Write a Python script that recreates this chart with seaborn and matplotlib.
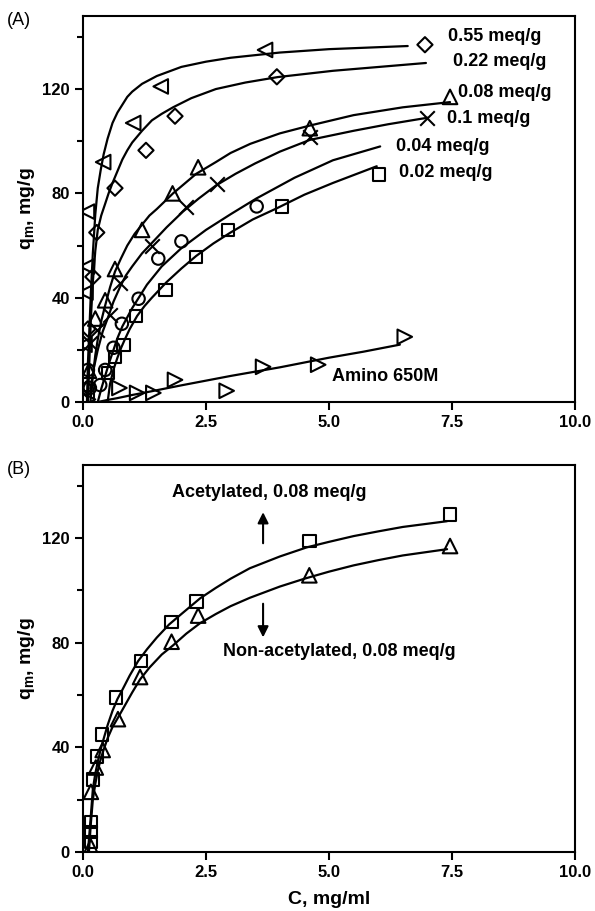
import matplotlib
matplotlib.use("Agg")
import matplotlib.pyplot as plt
import seaborn as sns
import pandas as pd

sns.set_style("ticks")
plt.rcParams['font.family'] = ['Liberation Sans', 'DejaVu Sans']
plt.rcParams['mathtext.fontset'] = 'custom'
plt.rcParams['mathtext.rm'] = 'Liberation Sans:bold'
plt.rcParams['mathtext.it'] = 'Liberation Sans:bold'
plt.rcParams['mathtext.bf'] = 'Liberation Sans:bold'
plt.rcParams['mathtext.default'] = 'regular'
for key in ('text.color', 'axes.labelcolor', 'xtick.color', 'ytick.color', 'axes.edgecolor'):
    plt.rcParams[key] = 'black'

# ---- panel A: measured points (C, q) ----
labels_a = ["0.55 meq/g", "0.22 meq/g", "0.08 meq/g", "0.1 meq/g",
            "0.04 meq/g", "0.02 meq/g", "Amino 650M"]
markers_a = ["<", "D", "^", "x", "o", "s", ">"]

c_055 = [0.03, 0.05, 0.08, 0.08, 0.41, 1.02, 1.58, 3.7]
q_055 = [22, 42, 52, 73, 92, 107, 121, 135]
c_022 = [0.07, 0.1, 0.2, 0.28, 0.65, 1.28, 1.87, 3.94, 6.95]
q_022 = [5, 28, 48, 65, 82, 96.5, 109.6, 124.7, 137]
c_008 = [0.12, 0.25, 0.45, 0.65, 1.2, 1.82, 2.34, 4.61, 7.46]
q_008 = [12, 32, 39, 51, 66, 80, 90, 105, 117]
c_01 = [0.14, 0.28, 0.55, 0.75, 1.4, 2.1, 2.73, 4.61, 7.0]
q_01 = [22.7, 27.7, 33.5, 45.6, 60, 74.6, 83.5, 101.5, 109]
c_004 = [0.1, 0.14, 0.35, 0.45, 0.62, 0.79, 1.13, 1.53, 2.0, 3.53]
q_004 = [12.3, 5.4, 6.5, 12.3, 20.8, 30, 39.6, 55, 61.6, 75]
c_002 = [0.1, 0.51, 0.65, 0.82, 1.08, 1.68, 2.3, 2.95, 4.04, 6.02]
q_002 = [2, 11.2, 17.3, 21.9, 33, 43, 55.7, 66, 75, 87.3]
c_am = [0.1, 0.74, 1.1, 1.43, 1.87, 2.92, 3.66, 4.78, 6.54]
q_am = [1, 5.4, 3.5, 3.5, 8.5, 4.3, 13.5, 14.3, 25]

# ---- panel A: fitted curves ----
fc_055 = [0.08, 0.1, 0.13, 0.16, 0.2, 0.25, 0.3, 0.36, 0.42, 0.5, 0.6, 0.7, 0.8, 0.9,
          1.0, 1.2, 1.5, 2.0, 2.5, 3.0, 4.0, 5.0, 6.6]
fq_055 = [0, 15, 28, 42, 57, 72, 82, 89, 95, 101, 107, 111, 114, 117,
          119, 122, 125, 128.5, 130.5, 132, 134, 135.3, 136.5]
fc_022 = [0.1, 0.13, 0.16, 0.2, 0.25, 0.3, 0.37, 0.45, 0.52, 0.6, 0.7, 0.8, 0.9, 1.0,
          1.2, 1.4, 1.6, 1.83, 2.2, 2.7, 3.3, 3.96, 5.08, 6.97]
fq_022 = [0, 16, 32, 46, 58, 66, 71.5, 76, 80, 84, 88.5, 93, 96.5, 99.5,
          104, 108, 110.5, 113, 116.5, 120, 122.5, 124.6, 127, 130]
fc_008 = [0.15, 0.2, 0.25, 0.3, 0.37, 0.45, 0.55, 0.65, 0.77, 0.9, 1.05, 1.2, 1.35, 1.5,
          1.83, 2.3, 2.7, 3.0, 3.4, 4.0, 4.61, 5.5, 6.5, 7.46]
fq_008 = [0, 10, 18, 24, 31, 37, 44, 50, 55, 60, 64.5, 68, 71.5, 74,
          80, 87.5, 92, 95.5, 99, 103, 106, 110, 113, 115]
fc_01 = [0.15, 0.22, 0.3, 0.4, 0.5, 0.62, 0.75, 0.87, 1.0, 1.2, 1.4, 1.7, 2.03, 2.35,
         2.7, 3.1, 3.5, 4.0, 4.61, 5.5, 6.2, 7.0]
fq_01 = [5, 13, 20, 27, 32, 38.5, 44, 48.5, 52, 57, 61, 67, 73, 78,
         83, 87.5, 91.5, 96, 100.5, 104, 106.5, 109]
fc_004 = [0.3, 0.37, 0.45, 0.53, 0.62, 0.7, 0.8, 0.9, 1.0, 1.15, 1.3, 1.45, 1.6, 1.8,
          2.0, 2.25, 2.5, 3.0, 3.52, 4.3, 5.08, 6.04]
fq_004 = [0, 5, 10, 15, 20, 24.5, 29, 32.5, 36, 40.5, 45, 48.5, 52, 55.5,
          59, 62.5, 66, 72, 78, 86, 92.7, 98]
fc_002 = [0.5, 0.55, 0.62, 0.7, 0.78, 0.85, 0.95, 1.1, 1.25, 1.4, 1.55, 1.7, 2.0, 2.3,
          2.65, 3.0, 3.45, 3.93, 4.5, 5.08, 5.97]
fq_002 = [0, 7, 12.5, 17, 21, 24, 28, 33, 36.8, 40, 43, 46, 51.2, 56,
          60.8, 65, 70, 74.2, 79.5, 84, 90.4]
fc_am = [0.3, 0.5, 0.7, 1.0, 1.36, 2.0, 3.0, 4.0, 5.0, 5.7, 6.44]
fq_am = [0, 0.8, 1.5, 2.7, 4, 6.4, 10, 13.3, 17, 19.3, 22]

# ---- panel B ----
c_acet = [0.16, 0.16, 0.16, 0.2, 0.28, 0.39, 0.67, 1.18, 1.8, 2.31, 4.6, 7.46]
q_acet = [3.8, 7.7, 11.5, 27.7, 36.5, 45, 59, 73, 88, 95.8, 119, 129]
c_non = [0.16, 0.16, 0.26, 0.4, 0.71, 1.16, 1.8, 2.34, 4.6, 7.46]
q_non = [2, 23, 32.3, 39, 50.8, 66.9, 80.4, 90.4, 105.8, 117]
fc_acet = [0.1, 0.13, 0.16, 0.2, 0.25, 0.3, 0.35, 0.4, 0.5, 0.6, 0.7, 0.8, 0.95, 1.12,
           1.3, 1.5, 1.75, 2.0, 2.38, 2.7, 3.0, 3.39, 4.0, 4.55, 5.0, 5.5, 6.0, 6.5, 7.4]
fq_acet = [0, 7, 14, 24, 30, 34.5, 38.5, 42, 48.5, 54, 58.5, 62, 67.5, 73,
           77.5, 82, 87, 91, 97, 101, 104.5, 108.5, 113, 116.5, 118.6, 120.8, 122.6, 124.3, 126.5]
fc_non = [0.12, 0.16, 0.2, 0.25, 0.3, 0.35, 0.4, 0.5, 0.6, 0.7, 0.85, 1.0, 1.16, 1.35,
          1.6, 1.83, 2.1, 2.38, 2.7, 3.0, 3.39, 4.0, 4.5, 5.0, 5.5, 6.0, 6.5, 7.4]
fq_non = [0, 11, 20, 26, 31, 34.8, 38, 43.5, 47.8, 51, 56, 61, 66, 70.5,
          75.5, 79, 83.5, 87.5, 91, 94, 97.2, 101.5, 104.5, 107.2, 109.6, 111.6, 113.4, 115.8]

pts_a = [(c_055, q_055), (c_022, q_022), (c_008, q_008), (c_01, q_01),
         (c_004, q_004), (c_002, q_002), (c_am, q_am)]
fits_a = [(fc_055, fq_055), (fc_022, fq_022), (fc_008, fq_008), (fc_01, fq_01),
          (fc_004, fq_004), (fc_002, fq_002), (fc_am, fq_am)]
label_pos_a = [(7.42, 140), (7.52, 130.4), (7.62, 118.8), (7.4, 108.8),
               (6.36, 98), (6.42, 88), (5.06, 9.6)]

fig = plt.figure(figsize=(5.95, 9.11), dpi=100)
ax_a = fig.add_axes([0.1395, 0.5587, 0.8269, 0.4237])
ax_b = fig.add_axes([0.1395, 0.0648, 0.8269, 0.4248])


def draw_series(ax, pts, fit, marker):
    fit_df = pd.DataFrame({"C": fit[0], "q": fit[1]})
    sns.lineplot(data=fit_df, x="C", y="q", ax=ax, color="black", lw=1.6,
                 sort=False, estimator=None)
    pts_df = pd.DataFrame({"C": pts[0], "q": pts[1]})
    size = 110 if marker in ("<", ">", "^") else 80
    if marker == "D":
        size = 60
    if marker == "x":
        sns.scatterplot(data=pts_df, x="C", y="q", ax=ax, marker="x", s=110,
                        color="black", linewidth=1.5, zorder=3)
    else:
        sns.scatterplot(data=pts_df, x="C", y="q", ax=ax, marker=marker, s=size,
                        facecolor="none", edgecolor="black", linewidth=1.5, zorder=3)


for pts, fit, mk in zip(pts_a, fits_a, markers_a):
    draw_series(ax_a, pts, fit, mk)
for lab, (lx, ly) in zip(labels_a, label_pos_a):
    ax_a.text(lx, ly, lab, fontsize=13, fontweight="bold", va="center", ha="left")

draw_series(ax_b, (c_acet, q_acet), (fc_acet, fq_acet), "s")
draw_series(ax_b, (c_non, q_non), (fc_non, fq_non), "^")
ax_b.text(1.8, 137.3, "Acetylated, 0.08 meq/g", fontsize=13, fontweight="bold",
          va="center", ha="left")
ax_b.text(2.85, 76.5, "Non-acetylated, 0.08 meq/g", fontsize=13, fontweight="bold",
          va="center", ha="left")
ax_b.annotate("", xy=(3.66, 131), xytext=(3.66, 117),
              arrowprops=dict(arrowstyle="-|>", color="black", lw=1.5, mutation_scale=16))
ax_b.annotate("", xy=(3.66, 81), xytext=(3.66, 96),
              arrowprops=dict(arrowstyle="-|>", color="black", lw=1.5, mutation_scale=16))

for ax in (ax_a, ax_b):
    ax.set_xlim(0, 10)
    ax.set_ylim(0, 148)
    ax.set_xticks([0, 2.5, 5, 7.5, 10])
    ax.set_xticklabels(["0.0", "2.5", "5.0", "7.5", "10.0"])
    ax.set_yticks([0, 40, 80, 120])
    ax.set_yticks([20, 60, 100, 140], minor=True)
    ax.tick_params(which="both", direction="out", width=1.5, labelsize=12)
    ax.tick_params(which="major", length=6)
    ax.tick_params(which="minor", length=4)
    for lab in ax.get_xticklabels() + ax.get_yticklabels():
        lab.set_fontweight("bold")
    for sp in ax.spines.values():
        sp.set_linewidth(1.5)
    ax.set_ylabel("q$_{m}$, mg/g", fontsize=14, fontweight="bold", labelpad=4)
    ax.set_xlabel("")

ax_b.set_xlabel("C, mg/ml", fontsize=14, fontweight="bold", labelpad=8)

fig.text(0.012, 0.978, "(A)", fontsize=13, va="center", ha="left")
fig.text(0.012, 0.485, "(B)", fontsize=13, va="center", ha="left")

fig.savefig("out.png", dpi=100)
